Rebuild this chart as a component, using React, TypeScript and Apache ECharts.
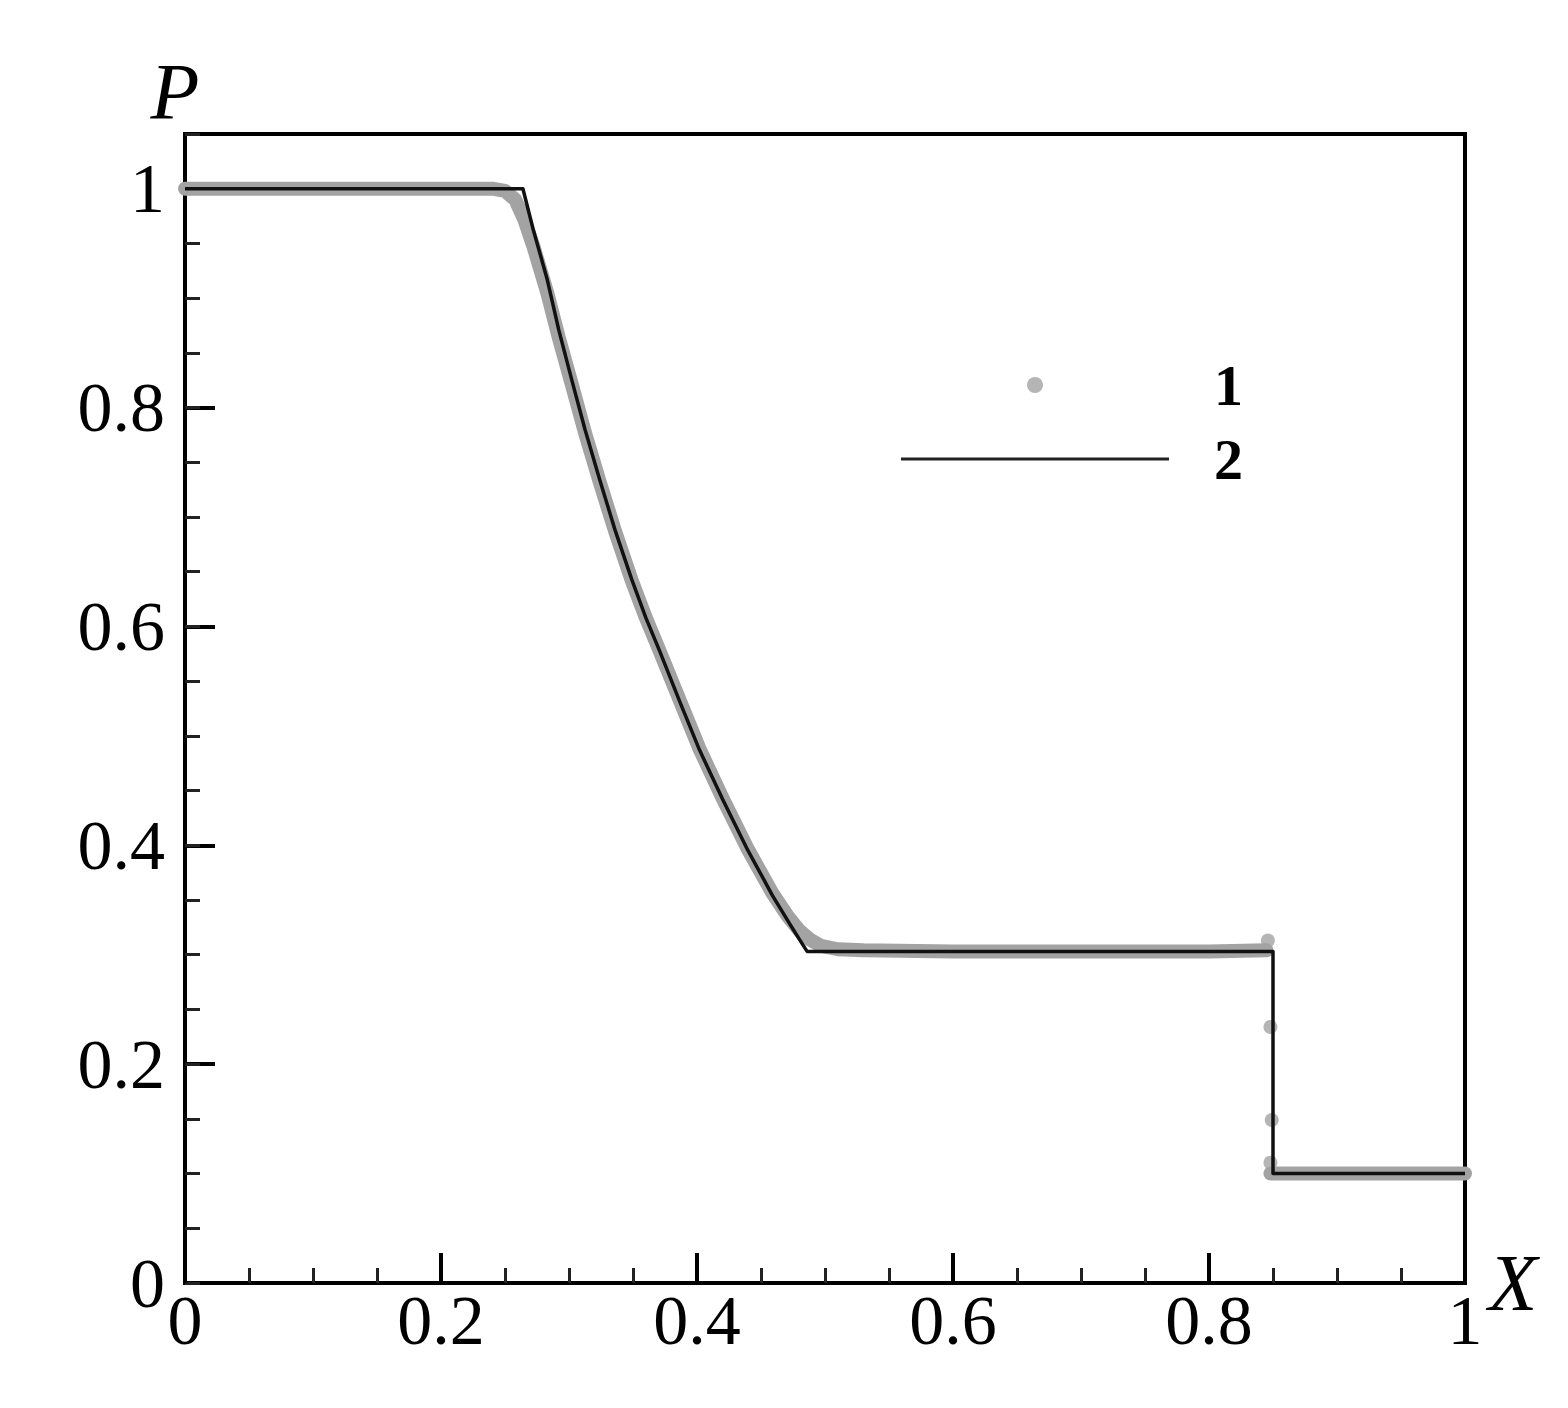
import React, { useEffect, useRef } from "react";
import * as echarts from "echarts";

// Exact solution (curve 2)
const exactX = [0, 0.264, 0.272, 0.283, 0.292, 0.302, 0.3125, 0.324, 0.336, 0.349, 0.36, 0.371, 0.387, 0.402, 0.42, 0.439, 0.459, 0.471, 0.48, 0.486, 0.85, 0.85, 1];
const exactP = [1, 1, 0.963, 0.917, 0.871, 0.826, 0.78, 0.734, 0.688, 0.643, 0.608, 0.577, 0.53, 0.487, 0.442, 0.397, 0.354, 0.331, 0.314, 0.303, 0.303, 0.1, 0.1];

// Numerical solution (points 1): dense band, left part
const numBandX = [0, 0.05, 0.1, 0.15, 0.2, 0.24, 0.25, 0.258, 0.265, 0.272, 0.283, 0.292, 0.302, 0.3125, 0.324, 0.336, 0.349, 0.36, 0.371, 0.387, 0.402, 0.42, 0.439, 0.459, 0.471, 0.48, 0.488, 0.497, 0.51, 0.53, 0.6, 0.65, 0.7, 0.75, 0.8, 0.845];
const numBandP = [1, 1, 1, 1, 1, 1, 0.998, 0.99, 0.972, 0.948, 0.905, 0.864, 0.822, 0.777, 0.732, 0.687, 0.642, 0.608, 0.577, 0.531, 0.488, 0.443, 0.398, 0.356, 0.335, 0.322, 0.314, 0.308, 0.305, 0.304, 0.303, 0.303, 0.303, 0.303, 0.303, 0.304];
// Numerical points inside the shock
const shockX = [0.846, 0.848, 0.849, 0.848];
const shockP = [0.313, 0.234, 0.149, 0.11];
// Numerical band, right part
const numTailX = [0.848, 0.87, 0.9, 0.95, 1.0];
const numTailP = [0.1, 0.1, 0.1, 0.1, 0.1];

const xTicks = { min: 0, max: 1, interval: 0.2 };
const yTicks = { min: 0, max: 1.05, interval: 0.2, minorInterval: 0.05 };

const zip = (xs: number[], ys: number[]) => xs.map((x, i) => [x, ys[i]]);

const SERIF = "'Liberation Serif', 'Times New Roman', serif";
const GRAY = "#a3a3a3";
const INK = "#111";

export default function App() {
  const ref = useRef<HTMLDivElement>(null);
  useEffect(() => {
    document.body.style.margin = "0";
    const chart = echarts.init(ref.current!, undefined, { renderer: "svg" });
    chart.setOption({
      animation: false,
      backgroundColor: "#fff",
      grid: {
        left: 185,
        right: 103,
        top: 134,
        bottom: 125,
        show: true,
        borderColor: "#000",
        borderWidth: 4,
        backgroundColor: "transparent",
      },
      legend: {
        orient: "vertical",
        left: 896,
        top: 351,
        itemWidth: 268,
        itemHeight: 16,
        itemGap: 16,
        selectedMode: false,
        textStyle: {
          fontFamily: SERIF,
          fontWeight: "bold",
          fontSize: 58,
          color: "#000",
          padding: [0, 0, 0, 40],
        },
        data: [
          { name: "1", icon: "circle", itemStyle: { color: GRAY, borderWidth: 0 } },
          { name: "2", icon: "path://M0,0H268V3H0Z", itemStyle: { color: "#222", borderWidth: 0 } },
        ],
      },
      xAxis: {
        type: "value",
        min: xTicks.min,
        max: xTicks.max,
        interval: xTicks.interval,
        name: "X",
        nameLocation: "end",
        nameGap: 12,
        nameTextStyle: {
          fontFamily: SERIF,
          fontStyle: "italic",
          fontSize: 80,
          color: "#000",
          padding: [0, 0, 58, 0],
        },
        axisLine: { show: true, lineStyle: { color: "#000", width: 4 } },
        axisTick: { show: true, inside: true, length: 30, lineStyle: { color: "#000", width: 4 } },
        minorTick: { show: true, splitNumber: 4, length: 15, lineStyle: { color: "#222", width: 3 } },
        splitLine: { show: false },
        minorSplitLine: { show: false },
        axisLabel: { fontFamily: SERIF, fontSize: 70, color: "#000", margin: 2 },
      },
      yAxis: [
        {
          type: "value",
          min: yTicks.min,
          max: yTicks.max,
          interval: yTicks.interval,
          position: "left",
          name: "P",
          nameLocation: "end",
          nameGap: 2,
          nameTextStyle: {
            fontFamily: SERIF,
            fontStyle: "italic",
            fontSize: 80,
            color: "#000",
            padding: [0, 20, 0, 0],
          },
          axisLine: { show: true, lineStyle: { color: "#000", width: 4 } },
          axisTick: { show: true, inside: true, length: 30, lineStyle: { color: "#000", width: 4 } },
          splitLine: { show: false },
          axisLabel: { fontFamily: SERIF, fontSize: 70, color: "#000", margin: 20, showMaxLabel: false },
        },
        {
          type: "value",
          min: yTicks.min,
          max: yTicks.max,
          interval: yTicks.minorInterval,
          position: "left",
          axisLine: { show: false },
          axisTick: { show: true, inside: true, length: 15, lineStyle: { color: "#222", width: 3 } },
          splitLine: { show: false },
          axisLabel: { show: false },
        },
      ],
      series: [
        {
          name: "1",
          type: "scatter",
          z: 3,
          symbol: "circle",
          symbolSize: 14,
          clip: false,
          itemStyle: { color: GRAY },
          data: zip(shockX, shockP),
        },
        {
          name: "1",
          type: "line",
          z: 2,
          symbol: "none",
          clip: false,
          itemStyle: { color: GRAY },
          lineStyle: { color: GRAY, width: 14, cap: "round", join: "round" },
          data: zip(numBandX, numBandP),
        },
        {
          name: "1",
          type: "line",
          z: 2,
          symbol: "none",
          clip: false,
          itemStyle: { color: GRAY },
          lineStyle: { color: GRAY, width: 14, cap: "round", join: "round" },
          data: zip(numTailX, numTailP),
        },
        {
          name: "2",
          type: "line",
          z: 4,
          symbol: "none",
          clip: false,
          itemStyle: { color: INK },
          lineStyle: { color: INK, width: 3.5, join: "round" },
          data: zip(exactX, exactP),
        },
      ],
    });
    return () => chart.dispose();
  }, []);
  return <div ref={ref} style={{ width: 1568, height: 1408 }} />;
}
